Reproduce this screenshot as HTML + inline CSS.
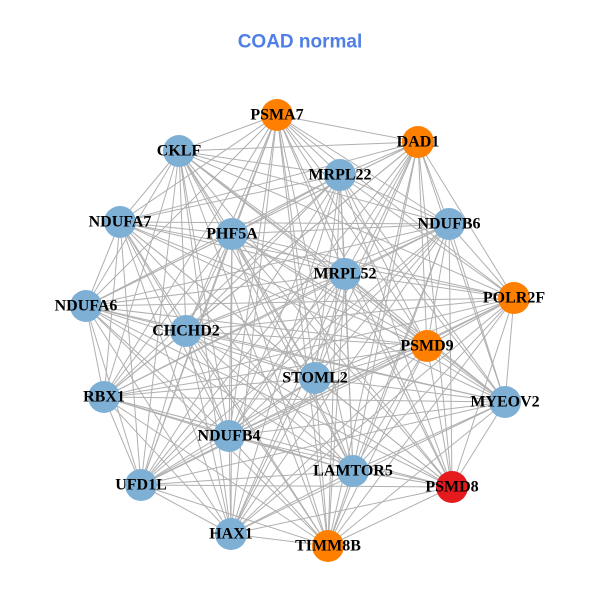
<!DOCTYPE html>
<html><head><meta charset="utf-8"><style>
html,body{margin:0;padding:0;background:#fff}
svg text{font-family:"Liberation Serif",serif;font-weight:bold;font-size:16px;text-anchor:middle;dominant-baseline:central;fill:#000}
</style></head><body>
<svg id="s" width="600" height="600" xmlns="http://www.w3.org/2000/svg">
<rect width="600" height="600" fill="#fff"/>
<text x="300" y="42" style="font-family:'Liberation Sans',sans-serif;font-size:19px;fill:#4f7fe6">COAD normal</text>
<g id="e" stroke="#b0b0b0" stroke-width="1"></g>
<g id="n"></g>
<g>
<text x="277" y="115">PSMA7</text>
<text x="418" y="142">DAD1</text>
<text x="179" y="151">CKLF</text>
<text x="340" y="175">MRPL22</text>
<text x="449" y="224">NDUFB6</text>
<text x="120" y="222">NDUFA7</text>
<text x="232" y="234">PHF5A</text>
<text x="345" y="274">MRPL52</text>
<text x="514" y="298">POLR2F</text>
<text x="86" y="306">NDUFA6</text>
<text x="186" y="331">CHCHD2</text>
<text x="427" y="346">PSMD9</text>
<text x="315" y="378">STOML2</text>
<text x="104" y="397">RBX1</text>
<text x="505" y="402">MYEOV2</text>
<text x="229" y="436">NDUFB4</text>
<text x="353" y="471">LAMTOR5</text>
<text x="452" y="487">PSMD8</text>
<text x="141" y="485">UFD1L</text>
<text x="231" y="534">HAX1</text>
<text x="328" y="546">TIMM8B</text>
</g>
</svg>
<script>
var N=[[277,115,'o'],[418,142,'o'],[179,151,'b'],[340,175,'b'],[449,224,'b'],[120,222,'b'],[232,234,'b'],[345,274,'b'],[514,298,'o'],[86,306,'b'],[186,331,'b'],[427,346,'o'],[315,378,'b'],[104,397,'b'],[505,402,'b'],[229,436,'b'],[353,471,'b'],[452,487,'r'],[141,485,'b'],[231,534,'b'],[328,546,'o']];
var C={o:'#ff7f00',b:'#7eb0d5',r:'#e41a1c'},ns='http://www.w3.org/2000/svg';
var e=document.getElementById('e'),n=document.getElementById('n');
for(var i=0;i<N.length;i++)for(var j=i+1;j<N.length;j++){var l=document.createElementNS(ns,'line');l.setAttribute('x1',N[i][0]);l.setAttribute('y1',N[i][1]);l.setAttribute('x2',N[j][0]);l.setAttribute('y2',N[j][1]);e.appendChild(l);}
N.forEach(function(p){var c=document.createElementNS(ns,'circle');c.setAttribute('cx',p[0]);c.setAttribute('cy',p[1]);c.setAttribute('r',16);c.setAttribute('fill',C[p[2]]);n.appendChild(c);});
</script>
</body></html>
